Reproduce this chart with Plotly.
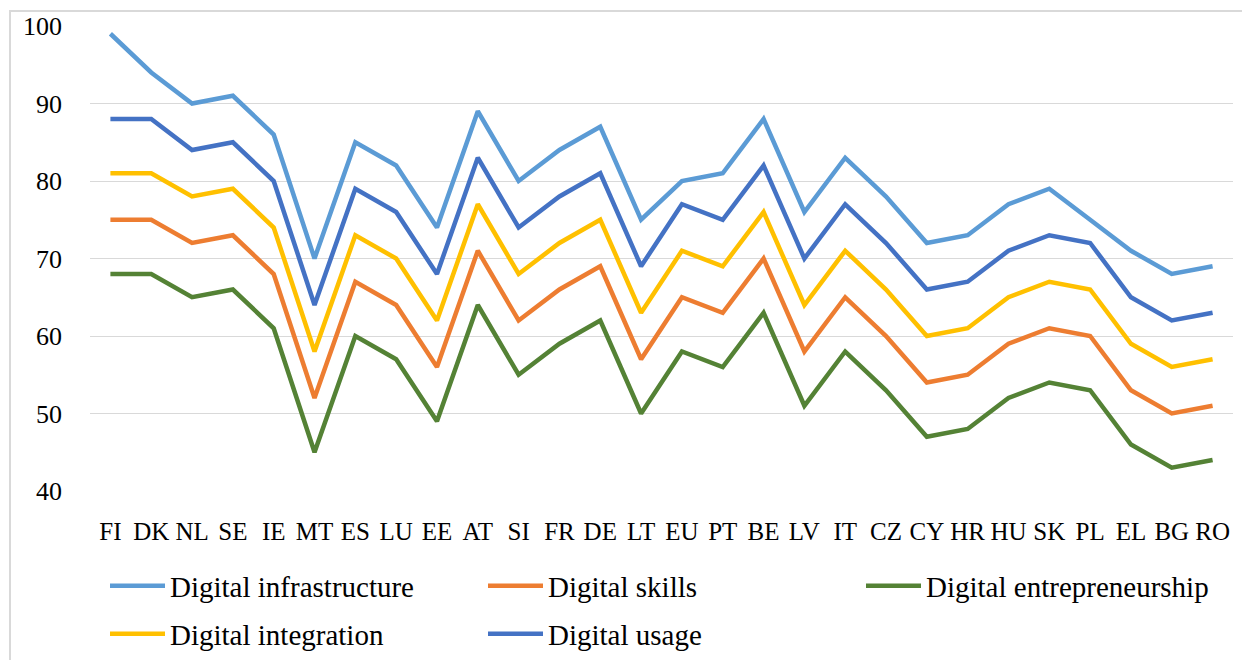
import plotly.graph_objects as go

countries = ["FI", "DK", "NL", "SE", "IE", "MT", "ES", "LU", "EE", "AT", "SI", "FR", "DE", "LT",
             "EU", "PT", "BE", "LV", "IT", "CZ", "CY", "HR", "HU", "SK", "PL", "EL", "BG", "RO"]

infrastructure = [99, 94, 90, 91, 86, 70, 85, 82, 74, 89, 80, 84, 87, 75,
                  80, 81, 88, 76, 83, 78, 72, 73, 77, 79, 75, 71, 68, 69]
usage = [88, 88, 84, 85, 80, 64, 79, 76, 68, 83, 74, 78, 81, 69,
         77, 75, 82, 70, 77, 72, 66, 67, 71, 73, 72, 65, 62, 63]
integration = [81, 81, 78, 79, 74, 58, 73, 70, 62, 77, 68, 72, 75, 63,
               71, 69, 76, 64, 71, 66, 60, 61, 65, 67, 66, 59, 56, 57]
skills = [75, 75, 72, 73, 68, 52, 67, 64, 56, 71, 62, 66, 69, 57,
          65, 63, 70, 58, 65, 60, 54, 55, 59, 61, 60, 53, 50, 51]
entrepreneurship = [68, 68, 65, 66, 61, 45, 60, 57, 49, 64, 55, 59, 62, 50,
                    58, 56, 63, 51, 58, 53, 47, 48, 52, 54, 53, 46, 43, 44]

series = [
    ("Digital infrastructure", infrastructure, "#5B9BD5", "legend"),
    ("Digital skills", skills, "#ED7D31", "legend2"),
    ("Digital entrepreneurship", entrepreneurship, "#548235", "legend3"),
    ("Digital integration", integration, "#FFC000", "legend4"),
    ("Digital usage", usage, "#4472C4", "legend5"),
]

FONT = "Liberation Serif, Times New Roman, serif"

fig = go.Figure()
for name, vals, color, leg in series:
    fig.add_trace(go.Scatter(
        x=countries, y=vals, name=name, mode="lines",
        line=dict(color=color, width=4.5),
        legend=leg,
    ))

W, H = 1242, 660
L, R, T, B = 90, 9, 26, 169
pw = W - L - R
ph = H - T - B

def px_x(p):
    return (p - L) / pw

def px_y(p):
    return (H - B - p) / ph

leg_common = dict(orientation="h", xanchor="left", yanchor="middle",
                  xref="container", yref="container",
                  font=dict(family=FONT, size=29, color="#000000"),
                  bgcolor="rgba(0,0,0,0)", itemwidth=55,
                  tracegroupgap=0, borderwidth=0)

row1 = 1 - 586 / H
row2 = 1 - 634 / H
col1 = 105 / W
col2 = 483 / W
col3 = 861 / W

fig.update_layout(
    width=W, height=H,
    margin=dict(l=L, r=R, t=T, b=B, pad=0, autoexpand=False),
    paper_bgcolor="white", plot_bgcolor="white",
    font=dict(family=FONT, size=24, color="#000000"),
    showlegend=True,
    legend=dict(x=col1, y=row1, **leg_common),
    legend2=dict(x=col2, y=row1, **leg_common),
    legend3=dict(x=col3, y=row1, **leg_common),
    legend4=dict(x=col1, y=row2, **leg_common),
    legend5=dict(x=col2, y=row2, **leg_common),
    xaxis=dict(
        type="category", range=[-0.5, 27.5], automargin=False,
        showgrid=False, zeroline=False, showline=False, ticks="",
        tickfont=dict(family=FONT, size=25, color="#000000"),
        ticklabelstandoff=23, tickangle=0,
    ),
    yaxis=dict(
        range=[40, 100], tickvals=[40, 50, 60, 70, 80, 90, 100], automargin=False,
        showgrid=True, gridcolor="#d9d9d9", gridwidth=1.3,
        zeroline=False, showline=False, ticks="",
        tickfont=dict(family=FONT, size=26, color="#000000"),
        ticklabelstandoff=27,
    ),
    shapes=[dict(
        type="rect", xref="paper", yref="paper",
        x0=px_x(10), x1=px_x(1262), y0=px_y(680), y1=px_y(11),
        line=dict(color="#d9d9d9", width=2), fillcolor="rgba(0,0,0,0)",
        layer="below",
    )],
)

fig.write_html("out.html", config={"displayModeBar": False},
               post_script="document.body.style.margin='0';")
